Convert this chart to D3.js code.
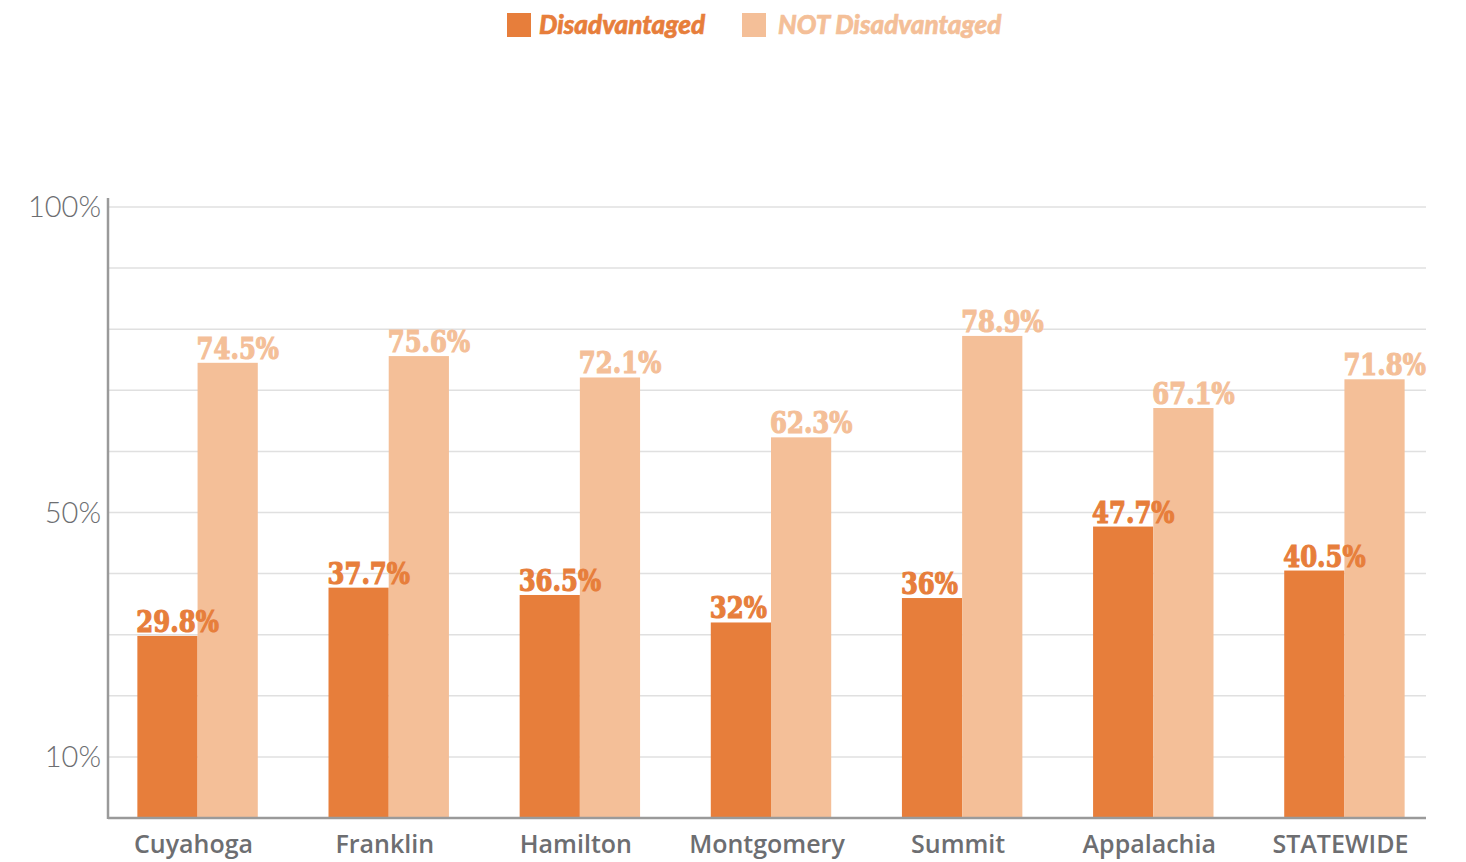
<!DOCTYPE html>
<html>
<head>
<meta charset="utf-8">
<script src="https://cdn.jsdelivr.net/npm/d3@7"></script>
<style>
  body { margin: 0; background: #fff; }
  svg { display: block; }
</style>
</head>
<body>
<div id="chart"></div>
<script>
var regions = ["Cuyahoga", "Franklin", "Hamilton", "Montgomery", "Summit", "Appalachia", "STATEWIDE"],
    disadvantaged = [29.8, 37.7, 36.5, 32, 36, 47.7, 40.5],
    notDisadvantaged = [74.5, 75.6, 72.1, 62.3, 78.9, 67.1, 71.8],
    seriesNames = ["Disadvantaged", "NOT Disadvantaged"],
    gridTicks = [10, 20, 30, 40, 50, 60, 70, 80, 90, 100],
    tickLabels = [10, 50, 100],
    colors = ["#e77e3b", "#f4bf98"];

var width = 1466, height = 862,
    left = 108, right = 1426, bottom = 818;

var svg = d3.select("#chart").append("svg")
    .attr("width", width)
    .attr("height", height);

var x = d3.scaleBand()
    .domain(regions)
    .range([102, 1440])
    .paddingInner(0.37)
    .paddingOuter(0.185);

var x1 = d3.scaleBand()
    .domain(seriesNames)
    .range([0, x.bandwidth()]);

var y = d3.scaleLinear()
    .domain([0, 100])
    .range([bottom, 207]);

// grid
svg.selectAll(".grid")
    .data(gridTicks)
    .enter().append("line")
    .attr("x1", left).attr("x2", right)
    .attr("y1", function(d) { return y(d); })
    .attr("y2", function(d) { return y(d); })
    .style("stroke", "#e0e0e0")
    .style("stroke-width", 1.5);

// y tick labels
svg.selectAll(".yLabel")
    .data(tickLabels)
    .enter().append("text")
    .text(function(d) { return d + "%"; })
    .attr("x", left - 7)
    .attr("y", function(d) { return y(d); })
    .attr("dy", "0.36em")
    .style("text-anchor", "end")
    .style("font-family", "Lato, sans-serif")
    .style("font-weight", 300)
    .style("font-size", "29px")
    .style("fill", "#6d6e71");

var rows = regions.map(function(r, i) {
    return { region: r, values: [disadvantaged[i], notDisadvantaged[i]] };
});

var groups = svg.selectAll(".group")
    .data(rows)
    .enter().append("g")
    .attr("transform", function(d) { return "translate(" + x(d.region) + ",0)"; });

groups.selectAll("rect")
    .data(function(d) { return d.values.map(function(v, j) { return { key: seriesNames[j], v: v, j: j }; }); })
    .enter().append("rect")
    .attr("x", function(d) { return x1(d.key); })
    .attr("y", function(d) { return y(d.v); })
    .attr("width", x1.bandwidth())
    .attr("height", function(d) { return bottom - y(d.v); })
    .style("fill", function(d) { return colors[d.j]; });

// value labels: heavy slab-ish serif, squeezed a little horizontally
groups.selectAll(".val")
    .data(function(d) { return d.values.map(function(v, j) { return { key: seriesNames[j], v: v, j: j }; }); })
    .enter().append("text")
    .text(function(d) { return d.v + "%"; })
    .attr("transform", function(d) {
        return "translate(" + (x1(d.key) - 1) + "," + (y(d.v) - 4) + ") scale(0.84,1)";
    })
    .style("font-family", "'DejaVu Serif', serif")
    .style("font-weight", "bold")
    .style("font-size", "29px")
    .style("fill", function(d) { return colors[d.j]; })
    .style("stroke", function(d) { return colors[d.j]; })
    .style("stroke-width", 1.2);

// axes lines
svg.append("line")
    .attr("x1", left).attr("x2", left)
    .attr("y1", y(100) - 9).attr("y2", bottom + 1)
    .style("stroke", "#9a9a9a")
    .style("stroke-width", 2.5);

svg.append("line")
    .attr("x1", left).attr("x2", right)
    .attr("y1", bottom).attr("y2", bottom)
    .style("stroke", "#9a9a9a")
    .style("stroke-width", 2.5);

// category labels
svg.selectAll(".xLabel")
    .data(regions)
    .enter().append("text")
    .text(function(d) { return d; })
    .attr("x", function(d) { return x(d) + x.bandwidth() / 2 - 4; })
    .attr("y", 853)
    .style("text-anchor", "middle")
    .style("font-family", "'Open Sans', sans-serif")
    .style("font-weight", 600)
    .style("font-size", "25px")
    .style("fill", "#6d6e71");

// legend
var legendX = [507, 742];
var legend = svg.selectAll(".legend")
    .data(seriesNames)
    .enter().append("g")
    .attr("transform", function(d, i) { return "translate(" + legendX[i] + ",13)"; });

legend.append("rect")
    .attr("width", 24)
    .attr("height", 24)
    .style("fill", function(d, i) { return colors[i]; });

legend.append("text")
    .text(function(d) { return d; })
    .attr("x", function(d, i) { return i === 0 ? 32 : 36; })
    .attr("y", 21)
    .style("font-family", "Lato, sans-serif")
    .style("font-style", "italic")
    .style("font-weight", 900)
    .style("font-size", "26px")
    .style("fill", function(d, i) { return colors[i]; })
    .style("stroke", function(d, i) { return colors[i]; })
    .style("stroke-width", 0.6);
</script>
</body>
</html>
